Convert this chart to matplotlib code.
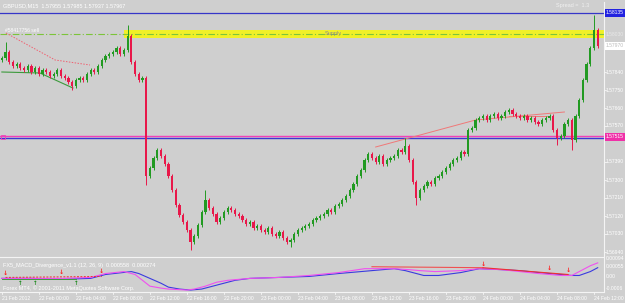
import matplotlib
matplotlib.use('Agg')
import matplotlib.pyplot as plt
import numpy as np
from matplotlib.transforms import blended_transform_factory
from matplotlib.lines import Line2D

plt.rcParams['font.family'] = ['Liberation Sans', 'DejaVu Sans']

# ---------------- data ----------------
first_open = 1.57900
closes = [
    1.57910, 1.57940, 1.57890, 1.57870, 1.57880, 1.57860, 1.57850,
    1.57870, 1.57840, 1.57860, 1.57830, 1.57850, 1.57840, 1.57820,
    1.57830, 1.57850, 1.57820, 1.57810, 1.57790, 1.57770,
    1.57800, 1.57810, 1.57800,
    1.57830, 1.57850, 1.57840, 1.57870,
    1.57900, 1.57920, 1.57930, 1.57940,
    1.57960, 1.57930, 1.57950, 1.58020,
    1.57890, 1.57830, 1.57800, 1.57810,
    1.57320,
    1.57360, 1.57410, 1.57450,
    1.57420, 1.57380,
    1.57320, 1.57250,
    1.57175, 1.57125, 1.57090,
    1.57050, 1.56990, 1.57020,
    1.57075, 1.57140, 1.57200,
    1.57160, 1.57130, 1.57090, 1.57110,
    1.57140, 1.57160, 1.57150,
    1.57130, 1.57120, 1.57100, 1.57080,
    1.57090, 1.57060, 1.57070, 1.57050, 1.57040,
    1.57060, 1.57030, 1.57020, 1.57040, 1.57010, 1.56990, 1.57000,
    1.57030, 1.57050,
    1.57060, 1.57070, 1.57080, 1.57100, 1.57110, 1.57120, 1.57130, 1.57150, 1.57140,
    1.57170, 1.57180, 1.57200, 1.57220, 1.57250,
    1.57280, 1.57320, 1.57350, 1.57400, 1.57430,
    1.57410, 1.57390, 1.57420, 1.57380, 1.57400,
    1.57410, 1.57420, 1.57450, 1.57440, 1.57470,
    1.57400, 1.57290, 1.57210,
    1.57250, 1.57270, 1.57290, 1.57280, 1.57310, 1.57320,
    1.57340, 1.57360, 1.57380, 1.57400, 1.57410, 1.57440,
    1.57430, 1.57550,
    1.57560, 1.57600,
    1.57610, 1.57620, 1.57600, 1.57620, 1.57630, 1.57610, 1.57620, 1.57640, 1.57650,
    1.57630, 1.57620, 1.57610, 1.57620, 1.57600, 1.57610, 1.57590, 1.57580, 1.57600, 1.57610, 1.57620,
    1.57550, 1.57510,
    1.57520, 1.57580,
    1.57600, 1.57500,
    1.57620, 1.57700,
    1.57800, 1.57880,
    1.57960, 1.58050,
    1.57970,
]
wick = 0.00008
high_override = {1: 1.57990, 34: 1.58075, 55: 1.57250, 109: 1.57510, 160: 1.58125}
low_override = {19: 1.57750, 39: 1.57275, 51: 1.56950, 78: 1.56965, 112: 1.57175,
                150: 1.57475, 154: 1.57450}

date_labels = ["21 Feb 2012", "22 Feb 00:00", "22 Feb 04:00", "22 Feb 08:00", "22 Feb 12:00",
               "22 Feb 16:00", "22 Feb 20:00", "23 Feb 00:00", "23 Feb 04:00", "23 Feb 08:00",
               "23 Feb 12:00", "23 Feb 16:00", "23 Feb 20:00", "24 Feb 00:00", "24 Feb 04:00",
               "24 Feb 08:00", "24 Feb 12:00"]
price_ticks = [1.57840, 1.57750, 1.57660, 1.57570, 1.57390, 1.57300, 1.57210,
               1.57120, 1.57030, 1.56940]

ask_line = 1.58135
supply_low, supply_high = 1.58010, 1.58050
supply_line = 1.58030
level_line = 1.57515
last_price = 1.57970

macd_idx = [0, 8, 16, 24, 28, 35, 37, 40, 43, 45, 48, 51, 54, 56, 59, 63, 67, 75, 83, 91,
            100, 106, 109, 112, 114, 118, 124, 129, 135, 140, 145, 151, 154, 156, 159, 161]
macd_main = [-0.00005, -0.00005, -0.0001, -0.00005, 0.00015, 0.0003, 0.0002, -0.00005, -0.0003,
             -0.0005, -0.0006, -0.00065, -0.0006, -0.0005, -0.00035, -0.00015, -0.00005, 0.0,
             0.00005, 0.0002, 0.00035, 0.00045, 0.00035, 0.0002, 0.0001, 0.0001, 0.00025,
             0.00045, 0.0004, 0.00035, 0.00025, 0.00015, 0.0001, 0.0001, 0.0003, 0.0005]
sig_idx = [0, 8, 16, 24, 28, 33, 36, 38, 40, 43, 45, 50, 52, 55, 58, 61, 67, 75, 83, 91,
           98, 106, 110, 113, 117, 124, 129, 135, 140, 145, 151, 154, 156, 159, 161]
macd_signal = [-0.00005, -0.00005, -0.00005, 0.0, 0.0002, 0.0003, 0.00015, -0.00015, -0.00045,
               -0.00055, -0.0006, -0.00065, -0.0006, -0.00045, -0.00025, -0.00015, -0.00005, 0.0,
               0.0001, 0.00025, 0.00045, 0.00045, 0.0004, 0.00035, 0.0003, 0.00035, 0.00045,
               0.0004, 0.0003, 0.0002, 0.0001, 0.0001, 0.0003, 0.0006, 0.00075]
red_arrow_idx = [1, 16, 27, 130, 148, 153]
red_arrow_val = [0.0, 0.00005, 0.0001, 0.0005, 0.00025, 0.00015]
green_arrow_idx = [5, 9, 20]
green_arrow_val = [-0.00012, -0.00012, -0.00012]
macd_ticks = [0.00095, 0.00055, 0.00005, -0.00055]
macd_tick_labels = ['0.00094', '0.00055', '0.00', '-0.0006']

# ---------------- figure ----------------
W, H = 625, 303
BG = '#cfcfcf'
FS = 3.6
fig = plt.figure(figsize=(W / 100, H / 100), dpi=100)
fig.patch.set_facecolor(BG)


def px_axes(x0, y0, x1, y1):
    return fig.add_axes([x0 / W, 1 - y1 / H, (x1 - x0) / W, (y1 - y0) / H])


def ftxt(x, y, s, **kw):
    kw.setdefault('fontsize', FS)
    kw.setdefault('color', 'white')
    kw.setdefault('va', 'center')
    fig.text(x / W, 1 - y / H, s, **kw)


n = len(closes)
idx = np.arange(n)
c = np.array(closes)
o = np.concatenate([[first_open], c[:-1]])
hi = np.maximum(o, c) + wick
lo = np.minimum(o, c) - wick
for k, v in high_override.items():
    hi[k] = v
for k, v in low_override.items():
    lo[k] = v

XL = (-0.5, 162.7)

ax = px_axes(0, 2, 604, 256)
ax.set_facecolor(BG)
ax.set_xlim(*XL)
ax.set_ylim(1.56920, 1.58190)
for s in ['top', 'left', 'bottom']:
    ax.spines[s].set_visible(False)
ax.spines['right'].set_color('#f4f4f4')
ax.spines['right'].set_linewidth(0.8)
ax.set_xticks([])
ax.set_yticks([])

# supply zone
ax.fill_between([33, XL[1]], supply_low, supply_high, color='#f0f028', lw=0, zorder=1)
ax.plot(XL, [supply_line, supply_line], color='#7cc43a', lw=0.8, ls=(0, (6, 2, 1, 2)), zorder=2)
ax.text(89.5, supply_line, 'Supply', fontsize=FS + 0.4, color='#8a8a8a', ha='center', va='center', zorder=3)

# horizontal lines
ax.plot(XL, [ask_line, ask_line], color='#3636c8', lw=0.9, zorder=2)
ax.plot(XL, [level_line - 0.00005, level_line - 0.00005], color='#3a3ad0', lw=1.0, zorder=2)
ax.plot(XL, [level_line + 0.00003, level_line + 0.00003], color='#f040b8', lw=1.0, zorder=2)
ax.plot([0.3], [level_line], marker='s', ms=2.5, mfc='none', mec='#f040b8', mew=0.6, zorder=3)

# trend lines
ax.plot([1.1, 14.4, 23.8], [1.58035, 1.57900, 1.57875], color='#f06070', lw=0.7, ls=(0, (1.5, 1.5)), zorder=2)
ax.plot([0, 10.3, 19.2], [1.57840, 1.57835, 1.57760], color='#3c9a3c', lw=0.8, zorder=2)
ax.plot([101, 128, 152], [1.57465, 1.57600, 1.57640], color='#f07878', lw=0.7, zorder=2)
ax.plot([137, 148], [1.57620, 1.57620], color='#f07878', lw=0.7, zorder=2)

# candles
up = c >= o
cols = np.where(up, '#229a22', '#e8184a')
ax.vlines(idx, lo, hi, colors=cols, lw=0.7, zorder=4)
body_h = np.maximum(np.abs(c - o), 0.00002)
ax.bar(idx, body_h, bottom=np.minimum(o, c), width=0.6, color=cols, lw=0, zorder=5)

# right axis labels
tr = blended_transform_factory(ax.transAxes, ax.transData)
LX = 1.0035
for p in price_ticks:
    ax.text(LX, p, f'{p:.5f}', transform=tr, fontsize=FS, color='white', va='center', ha='left', clip_on=False)
    ax.plot([1.0, 1.003], [p, p], transform=tr, color='white', lw=0.5, clip_on=False)
ax.text(LX, supply_line, f'{supply_line:.5f}', transform=tr, fontsize=FS, color='#e8e8e8', va='center', ha='left', clip_on=False)
ax.text(LX, ask_line, f'{ask_line:.5f}', transform=tr, fontsize=FS, color='white', va='center', ha='left',
        clip_on=False, bbox=dict(boxstyle='square,pad=0.25', fc='#2222e0', ec='none'))
ax.text(LX, last_price, f'{last_price:.5f}', transform=tr, fontsize=FS, color='#bcbcbc', va='center', ha='left',
        clip_on=False, bbox=dict(boxstyle='square,pad=0.25', fc='white', ec='none'))
ax.text(LX, level_line, f'{level_line:.5f}', transform=tr, fontsize=FS, color='white', va='center', ha='left',
        clip_on=False, bbox=dict(boxstyle='square,pad=0.25', fc='#f030a8', ec='none'))

# texts
ftxt(3, 6, 'GBPUSD,M15  1.57955 1.57985 1.57937 1.57967', fontsize=4.0)
ftxt(5, 30, '#58417756 sell')
ftxt(556, 6, 'Spread =  1.3', color='#f0f0f0', fontsize=4.0)

# ---------------- indicator ----------------
axi = px_axes(0, 258, 604, 291)
axi.set_facecolor(BG)
axi.set_xlim(*XL)
axi.set_ylim(-0.0007, 0.0010)
for s in ['top', 'left', 'bottom']:
    axi.spines[s].set_visible(False)
axi.spines['right'].set_color('#f4f4f4')
axi.spines['right'].set_linewidth(0.8)
axi.set_xticks([])
axi.set_yticks([])
axi.plot(macd_idx, macd_main, color='#3a3ae0', lw=0.8, zorder=3)
axi.plot(sig_idx, macd_signal, color='#f050f0', lw=0.8, zorder=3)
axi.plot([1, 27], [0.0, 0.00005], color='#f03030', lw=0.7, ls=(0, (2, 1.5)), zorder=4)
axi.plot([0, 20], [-0.0001, -0.0001], color='#3c9a3c', lw=0.7, zorder=4)
axi.plot([100, 130], [0.00055, 0.0005], color='#f05050', lw=0.8, zorder=4)
axi.plot([130, 153], [0.0005, 0.00015], color='#f03030', lw=0.8, zorder=4)
for i, v in zip(red_arrow_idx, red_arrow_val):
    axi.text(i, v + 0.00006, '↓', color='#ff2020', fontsize=4.5, ha='center', va='bottom',
             fontweight='bold', family='DejaVu Sans', zorder=6)
for i, v in zip(green_arrow_idx, green_arrow_val):
    axi.text(i, v - 0.00004, '↑', color='#1a8a1a', fontsize=4.0, ha='center', va='top',
             fontweight='bold', family='DejaVu Sans', zorder=6)
tri = blended_transform_factory(axi.transAxes, axi.transData)
for p, s in zip(macd_ticks, macd_tick_labels):
    axi.text(LX, p, s, transform=tri, fontsize=FS, color='white', va='center', ha='left', clip_on=False)
ftxt(3, 266, 'FX5_MACD_Divergence_v1.1 (12, 26, 9)  0.000558  0.000274', fontsize=4.0)
ftxt(3, 288.5, 'Forex MT4, \u00a9 2001-2011 MetaQuotes Software Corp.', fontsize=4.0)

# separators
for y in (256.5, 291.5):
    fig.add_artist(Line2D([0, 604 / W], [1 - y / H, 1 - y / H], color='#f4f4f4', lw=0.8))

# date labels
trd = blended_transform_factory(axi.transData, fig.transFigure)
for k, lab in enumerate(date_labels):
    axi.text(10 * k, 1 - 298 / H, lab, transform=trd, fontsize=3.6, color='white', ha='left', va='center', clip_on=False)
    axi.plot([10 * k, 10 * k], [1 - 291.5 / H, 1 - 293.5 / H], transform=trd, color='white', lw=0.5, clip_on=False)

fig.savefig('out.png', dpi=100, facecolor=BG)
